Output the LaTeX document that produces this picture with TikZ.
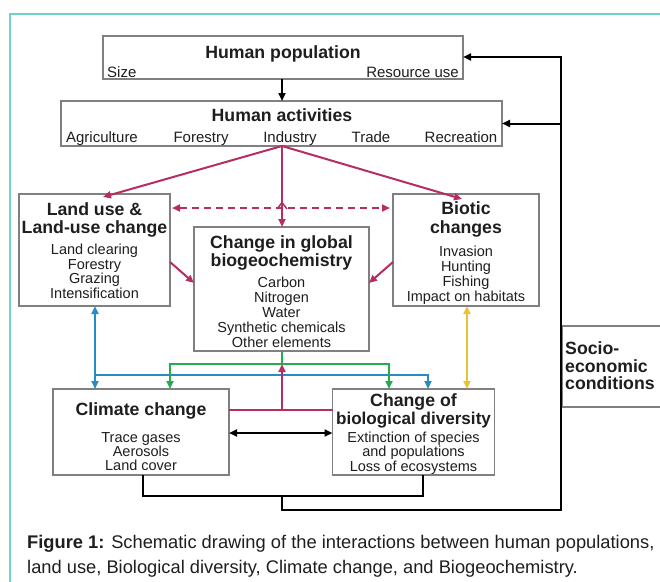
\documentclass[tikz,border=0pt]{standalone}
\usepackage{fontspec}
\setmainfont{Liberation Sans}
\usetikzlibrary{arrows.meta}
\definecolor{framec}{RGB}{110,212,198}
\definecolor{magc}{RGB}{184,44,100}
\definecolor{bluec}{RGB}{38,140,196}
\definecolor{greenc}{RGB}{40,170,80}
\definecolor{yellowc}{RGB}{232,194,56}
\definecolor{boxc}{RGB}{128,128,128}
\definecolor{txtc}{RGB}{30,30,30}
\begin{document}
\begin{tikzpicture}[x=1pt,y=-1pt,
  >={Triangle[length=8pt,width=7pt]},
  box/.style={draw=boxc,line width=1.3pt,fill=white,inner sep=0pt,outer sep=0pt},
  ttl/.style={inner sep=0pt,anchor=base,text=txtc,font=\fontsize{17.7}{20}\selectfont\bfseries},
  itm/.style={inner sep=0pt,anchor=base,text=txtc,font=\fontsize{14.5}{16}\selectfont},
  itmL/.style={inner sep=0pt,anchor=base,text=txtc,font=\fontsize{15}{17}\selectfont},
  captxt/.style={inner sep=0pt,anchor=base west,text=txtc,font=\fontsize{18.3}{22}\selectfont},
  blk/.style={draw=black,line width=2pt},
  mag/.style={draw=magc,line width=2pt},
  blu/.style={draw=bluec,line width=2pt},
  grn/.style={draw=greenc,line width=2pt},
  yel/.style={draw=yellowc,line width=2pt}]
\useasboundingbox (0,0) rectangle (660,581);
% frame
\draw[framec,line width=1.5pt] (668,14) -- (10,14) -- (10,590);

% boxes
\node[box,minimum width=360pt,minimum height=43pt] (hp) at (283,57.5) {};
\node[box,minimum width=441pt,minimum height=45pt] (ha) at (281.5,123.5) {};
\node[box,minimum width=151pt,minimum height=112pt] (lu) at (94.5,250) {};
\node[box,minimum width=175pt,minimum height=124pt] (bg) at (281.5,289) {};
\node[box,minimum width=146pt,minimum height=112pt] (bc) at (466,250) {};
\node[box,minimum width=176pt,minimum height=86pt] (cc) at (141,432) {};
\node[box,minimum width=162pt,minimum height=86pt] (bd) at (413.5,432) {};
\node[box,minimum width=120pt,minimum height=81pt] (se) at (622,366.5) {};

% coordinates
\coordinate (ind) at (282,146);
\coordinate (luA) at (103,0);
\coordinate (bcA) at (462,0);
\coordinate (dashY) at (0,208);
\coordinate (d1) at (0,262);
\coordinate (d2) at (0,283);
\coordinate (blL) at (95,375);
\coordinate (blR) at (428,375);
\coordinate (gL) at (170,364);
\coordinate (gR) at (389,364);
\coordinate (gM) at (282,364);
\coordinate (mY) at (282,410);
\coordinate (bkY) at (0,433);
\coordinate (yl) at (467,0);
\coordinate (bL) at (143,496);
\coordinate (bR) at (423,496);
\coordinate (bM) at (282,496);
\coordinate (bM2) at (282,510);
\coordinate (fbC) at (561,510);
\coordinate (fbT) at (561,57);
\coordinate (hopL) at (277,209);
\coordinate (hopT) at (282,202.5);
\coordinate (hopR) at (287,209);

% black connectors
\draw[blk,->] (hp.south -| ind) -- (ha.north -| ind);
\draw[blk] (cc.south -| bL) -- (bL) -- (bR) -- (bd.south -| bR);
\draw[blk,->] (bM) -- (bM2) -- (fbC) -- (fbT) -- (fbT -| hp.east);
\draw[blk,->] (fbT |- ha.east) -- (ha.east);
\draw[blk,<->] (cc.east |- bkY) -- (bd.west |- bkY);

% magenta
\draw[mag,->] (ind) -- ([yshift=-3pt]lu.north -| luA);
\draw[mag,->] (ind) -- ([yshift=-5pt]bc.north -| bcA);
\draw[mag,->] (ind) -- (bg.north -| ind);
\draw[mag,<->,dash pattern=on 7pt off 5pt,shorten <=2pt,shorten >=3pt] (lu.east |- dashY) -- (bc.west |- dashY);
\draw[magc,line width=1.5pt] (hopL) -- (hopT) -- (hopR);
\draw[mag,->] (lu.east |- d1) -- (bg.west |- d2);
\draw[mag,->] (bc.west |- d1) -- (bg.east |- d2);

% blue
\draw[blu,<->] (lu.south -| blL) -- (cc.north -| blL);
\draw[blu,->] (blL) -- (blR) -- (bd.north -| blR);
% green
\draw[grn] (bg.south -| gM) -- (gM);
\draw[grn,->] (gM) -| (cc.north -| gL);
\draw[grn,->] (gM) -| (bd.north -| gR);
% magenta lower
\draw[mag] (cc.east |- mY) -- (bd.west |- mY);
\draw[mag,->] (mY) -- (gM);
% yellow
\draw[yel,<->] (bc.south -| yl) -- (bd.north -| yl);

% texts
\node[ttl] (hpT) at (283,58.5) {Human population};
\node[itmL,anchor=base west] (hpS) at (107,77) {Size};
\node[itmL,anchor=base east] (hpR) at (459,77) {Resource use};

\node[ttl] (haT) at (282,121.5) {Human activities};
\node[itmL] (ha1) at (102,142) {Agriculture};
\node[itmL] (ha2) at (201,142) {Forestry};
\node[itmL] (ha3) at (290,142) {Industry};
\node[itmL] (ha4) at (371,142) {Trade};
\node[itmL] (ha5) at (461,142) {Recreation};

\node[ttl] (luT1) at (94.5,215.5) {Land use \&};
\node[ttl] (luT2) at (94.5,233.5) {Land-use change};
\node[itm] (lu1) at (94.5,254.5) {Land clearing};
\node[itm] (lu2) at (94.5,269) {Forestry};
\node[itm] (lu3) at (94.5,283.5) {Grazing};
\node[itm] (lu4) at (94.5,298) {Intensification};

\node[ttl] (bgT1) at (281.5,248.5) {Change in global};
\node[ttl] (bgT2) at (281.5,266.5) {biogeochemistry};
\node[itm] (bg1) at (281.5,287.5) {Carbon};
\node[itm] (bg2) at (281.5,302.5) {Nitrogen};
\node[itm] (bg3) at (281.5,317.5) {Water};
\node[itm] (bg4) at (281.5,332.5) {Synthetic chemicals};
\node[itm] (bg5) at (281.5,347) {Other elements};

\node[ttl] (bcT1) at (466,214.5) {Biotic};
\node[ttl] (bcT2) at (466,233.5) {changes};
\node[itm] (bc1) at (466,256.5) {Invasion};
\node[itm] (bc2) at (466,271.5) {Hunting};
\node[itm] (bc3) at (466,286.5) {Fishing};
\node[itm] (bc4) at (466,301.5) {Impact on habitats};

\node[ttl] (ccT) at (141,415.5) {Climate change};
\node[itm] (cc1) at (141,442.5) {Trace gases};
\node[itm] (cc2) at (141,456.5) {Aerosols};
\node[itm] (cc3) at (141,470.5) {Land cover};

\node[ttl] (bdT1) at (413.5,406.5) {Change of};
\node[ttl,font=\fontsize{17.1}{20}\selectfont\bfseries] (bdT2) at (413.5,424.5) {biological diversity};
\node[itm] (bd1) at (413.5,442.5) {Extinction of species};
\node[itm] (bd2) at (413.5,456.5) {and populations};
\node[itm] (bd3) at (413.5,471) {Loss of ecosystems};

\node[ttl,anchor=base west] (se1) at (565,354.5) {Socio-};
\node[ttl,anchor=base west] (se2) at (565,372.5) {economic};
\node[ttl,anchor=base west] (se3) at (565,389.5) {conditions};

\node[captxt] (cap1) at (27,548.5) {\textbf{Figure 1:} Schematic drawing of the interactions between human populations,};
\node[captxt] (cap2) at (27,573.5) {land use, Biological diversity, Climate change, and Biogeochemistry.};
\end{tikzpicture}
\end{document}
